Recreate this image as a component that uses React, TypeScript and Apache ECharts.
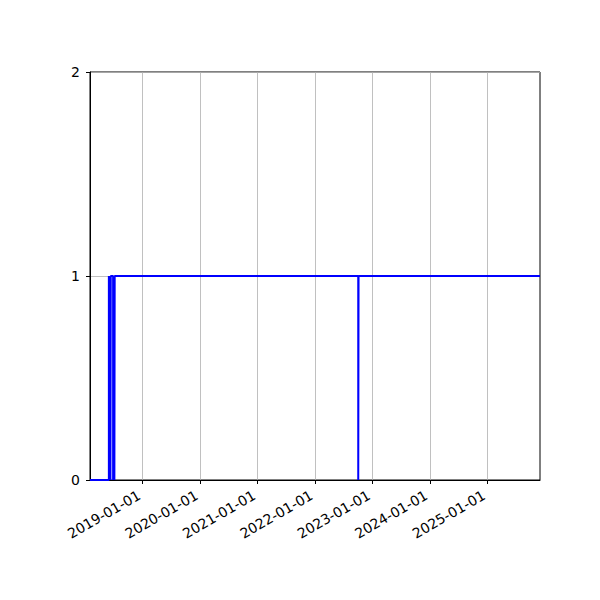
import { useEffect, useRef } from "react";
import * as echarts from "echarts";

// change points of the step series (value holds until the next date)
const stepDates = [
  "2018-01-31",
  "2018-05-31",
  "2018-06-02",
  "2018-06-04",
  "2018-06-06",
  "2018-06-08",
  "2018-06-10",
  "2018-06-12",
  "2018-06-27",
  "2018-06-29",
  "2018-07-01",
  "2018-07-03",
  "2018-07-05",
  "2018-07-07",
  "2022-10-03",
  "2022-10-05",
  "2025-12-02",
];
const stepValues = [0, 1, 0, 1, 0, 1, 0, 1, 0, 1, 0, 1, 0, 1, 0, 1, 1];

const xMin = "2018-01-31";
const xMax = "2025-12-02";
const yearTicks = [
  "2019-01-01",
  "2020-01-01",
  "2021-01-01",
  "2022-01-01",
  "2023-01-01",
  "2024-01-01",
  "2025-01-01",
];
const yTicks = [0, 1, 2];

const ts = (d: string) => Date.parse(d + "T00:00:00Z");

export default function App() {
  const ref = useRef<HTMLDivElement>(null);

  useEffect(() => {
    document.body.style.margin = "0";
    if (!ref.current) return;
    const chart = echarts.init(ref.current, undefined, { renderer: "svg" });
    const font = "DejaVu Sans";
    const yearTs = yearTicks.map(ts);

    chart.setOption({
      animation: false,
      backgroundColor: "#ffffff",
      textStyle: { fontFamily: font },
      grid: {
        left: 90,
        right: 60,
        top: 72,
        bottom: 120,
        show: true,
        borderColor: "#000000",
        borderWidth: 1,
        backgroundColor: "transparent",
      },
      xAxis: {
        type: "value",
        min: ts(xMin),
        max: ts(xMax),
        axisLine: { show: true, lineStyle: { color: "#000000", width: 1 } },
        axisTick: {
          show: true,
          inside: false,
          length: 4,
          lineStyle: { color: "#000000" },
          customValues: yearTs,
        },
        axisLabel: {
          customValues: yearTs,
          rotate: 30,
          margin: 12,
          padding: [0, 4, 0, 0],
          color: "#000000",
          fontSize: 14,
          fontFamily: font,
          hideOverlap: false,
          formatter: (v: number) => new Date(v).toISOString().slice(0, 10),
        },
        splitLine: { show: true, lineStyle: { color: "#b0b0b0", width: 0.8 } },
      },
      yAxis: {
        type: "value",
        min: yTicks[0],
        max: yTicks[yTicks.length - 1],
        interval: 1,
        axisLine: { show: true, lineStyle: { color: "#000000", width: 1 } },
        axisTick: {
          show: true,
          inside: false,
          length: 4,
          lineStyle: { color: "#000000" },
        },
        axisLabel: {
          color: "#000000",
          fontSize: 14,
          fontFamily: font,
          margin: 10,
        },
        splitLine: { show: true, lineStyle: { color: "#b0b0b0", width: 0.8 } },
      },
      series: [
        {
          type: "line",
          step: "end",
          showSymbol: false,
          clip: true,
          lineStyle: { color: "#0000ff", width: 2 },
          data: stepDates.map((d, i) => [ts(d), stepValues[i]]),
        },
      ],
    });

    return () => chart.dispose();
  }, []);

  return <div ref={ref} style={{ width: 600, height: 600 }} />;
}
